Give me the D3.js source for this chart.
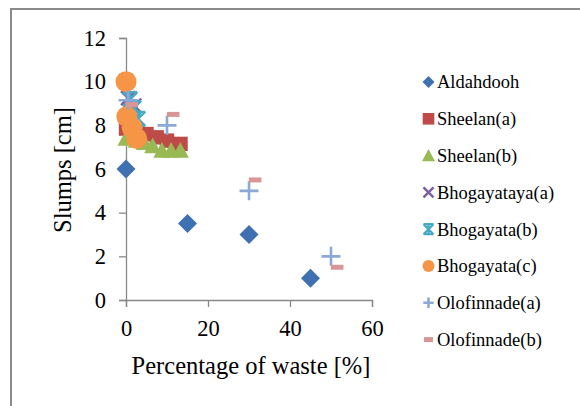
<!DOCTYPE html>
<html>
<head>
<meta charset="utf-8">
<script src="https://cdn.jsdelivr.net/npm/d3@7"></script>
<style>
  body { margin: 0; background: #fff; }
</style>
</head>
<body>
<svg width="580" height="406"></svg>
<script>
// series data: [percentage of waste, slump]
const seriesNames = ["Aldahdooh", "Sheelan(a)", "Sheelan(b)", "Bhogayataya(a)",
  "Bhogayata(b)", "Bhogayata(c)", "Olofinnade(a)", "Olofinnade(b)"];
const aldahdooh = [[0, 6], [15, 3.5], [30, 3], [45, 1]];
const sheelanA = [[0, 7.85], [2.5, 7.75], [5, 7.6], [7.5, 7.45], [10, 7.3], [13.3, 7.15]];
const sheelanB = [[0, 7.4], [2.5, 7.3], [4.5, 7.2], [6.5, 7.05], [8.75, 6.85], [11, 6.85], [13.25, 6.85]];
const bhogayatayaA = [[0.5, 9.25], [1, 9.2], [2, 8.9]];
const bhogayataB = [[0, 10], [1, 9.2], [2, 8.8], [3, 8.3]];
const bhogayataC = [[0, 10], [0.2, 8.4], [1.5, 7.9], [2.6, 7.4]];
const olofinnadeA = [[0.5, 9.15], [10, 8], [30, 5], [50, 2]];
const olofinnadeB = [[1.4, 8.95], [11.5, 8.5], [31.5, 5.5], [51.5, 1.5]];

const xTicks = [0, 20, 40, 60];
const yTicks = [0, 2, 4, 6, 8, 10, 12];

const seriesData = [aldahdooh, sheelanA, sheelanB, bhogayatayaA, bhogayataB, bhogayataC, olofinnadeA, olofinnadeB];
const colors = ["#3F70B2", "#BE4B48", "#98B954", "#7D60A0", "#46AAC5", "#F69545", "#8CA8D8", "#D99694"];
const shapes = ["diamond", "square", "triangle", "x", "star", "circle", "plus", "dash"];
const serif = "'Liberation Serif', 'Times New Roman', 'DejaVu Serif', serif";

const svg = d3.select("svg");

// outer frame (runs off the right and bottom of the picture)
svg.append("rect")
  .attr("x", 11).attr("y", 9).attr("width", 620).attr("height", 440)
  .attr("fill", "none").attr("stroke", "#8a8a8a").attr("stroke-width", 2);

const x = d3.scaleLinear().domain([0, 60]).range([126, 372]);
const y = d3.scaleLinear().domain([0, 12]).range([300, 38]);

// axes
const yAxis = svg.append("g")
  .attr("transform", "translate(" + x(0) + ",0)")
  .call(d3.axisLeft(y).tickValues(yTicks).tickSize(7).tickPadding(13).tickFormat(d3.format("d")));
const xAxis = svg.append("g")
  .attr("transform", "translate(0," + y(0) + ")")
  .call(d3.axisBottom(x).tickValues(xTicks).tickSize(7).tickPadding(13).tickFormat(d3.format("d")));

[xAxis, yAxis].forEach(function (g) {
  g.attr("font-family", serif).attr("font-size", 22.5);
  g.select(".domain").attr("stroke", "#888").attr("stroke-width", 1.3);
  g.selectAll(".tick line").attr("stroke", "#888").attr("stroke-width", 1.3);
  g.selectAll(".tick text").attr("fill", "#000");
});

// axis titles
svg.append("text")
  .attr("x", 251).attr("y", 374)
  .attr("text-anchor", "middle")
  .attr("font-family", serif).attr("font-size", 24.5).attr("fill", "#000")
  .text("Percentage of waste [%]");
svg.append("text")
  .attr("transform", "translate(71,170) rotate(-90)")
  .attr("text-anchor", "middle")
  .attr("font-family", serif).attr("font-size", 24.5).attr("fill", "#000")
  .text("Slumps [cm]");

// marker drawing, s = half width of the mark
function drawMarker(g, shape, color, s) {
  if (shape === "diamond") {
    g.append("path").attr("d", "M0," + (-s) + "L" + s + ",0L0," + s + "L" + (-s) + ",0Z").attr("fill", color);
  } else if (shape === "square") {
    g.append("rect").attr("x", -s).attr("y", -s).attr("width", s * 2).attr("height", s * 2).attr("fill", color);
  } else if (shape === "triangle") {
    g.append("path").attr("d", "M0," + (-s) + "L" + s + "," + (s * 0.85) + "L" + (-s) + "," + (s * 0.85) + "Z").attr("fill", color);
  } else if (shape === "circle") {
    g.append("circle").attr("r", s).attr("fill", color);
  } else if (shape === "x") {
    g.append("path").attr("d", "M" + (-s) + "," + (-s) + "L" + s + "," + s + "M" + s + "," + (-s) + "L" + (-s) + "," + s)
      .attr("stroke", color).attr("stroke-width", 2.5).attr("fill", "none");
  } else if (shape === "star") {
    g.append("path").attr("d", "M" + (-s) + "," + (-s) + "L" + s + "," + s + "M" + s + "," + (-s) + "L" + (-s) + "," + s +
      "M0," + (-s) + "L0," + s + "M" + (-s) + "," + (-s) + "L" + s + "," + (-s) + "M" + (-s) + "," + s + "L" + s + "," + s)
      .attr("stroke", color).attr("stroke-width", 2.2).attr("fill", "none");
  } else if (shape === "plus") {
    g.append("path").attr("d", "M" + (-s) + ",0L" + s + ",0M0," + (-s) + "L0," + s)
      .attr("stroke", color).attr("stroke-width", 2.6).attr("fill", "none");
  } else if (shape === "dash") {
    g.append("rect").attr("x", -s).attr("y", -2.5).attr("width", s * 2).attr("height", 5).attr("fill", color);
  }
}

const markerSize = [9.5, 7.2, 8.5, 7, 7, 10.5, 9.5, 6.3];
const legendSize = [6, 5.8, 6.5, 5, 5, 6, 5.2, 4.5];

seriesData.forEach(function (data, i) {
  const grp = svg.append("g").attr("class", "series-" + i);
  grp.selectAll("g")
    .data(data)
    .enter()
    .append("g")
    .attr("transform", function (d) { return "translate(" + x(d[0]) + "," + y(d[1]) + ")"; })
    .each(function () { drawMarker(d3.select(this), shapes[i], colors[i], markerSize[i]); });
});

// legend
const legend = svg.append("g");
seriesNames.forEach(function (name, i) {
  const cy = 82 + i * 36.8;
  const m = legend.append("g").attr("transform", "translate(428.5," + cy + ")");
  drawMarker(m, shapes[i], colors[i], legendSize[i]);
  legend.append("text")
    .attr("x", 437).attr("y", cy)
    .attr("dy", "0.35em")
    .attr("font-family", serif).attr("font-size", 18.5).attr("fill", "#000")
    .text(name);
});
</script>
</body>
</html>
